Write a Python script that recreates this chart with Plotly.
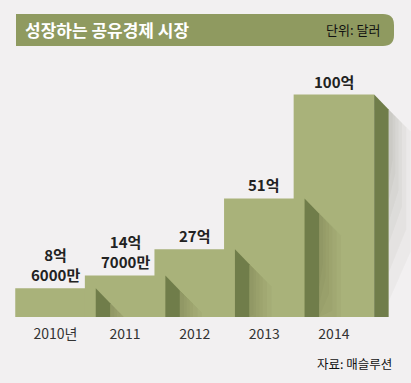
import plotly.graph_objects as go

# ---- data ----
years = ["2010년", "2011", "2012", "2013", "2014"]
values = [8.6, 14.7, 27, 51, 100]          # 억 달러
value_labels = ["8억<br>6000만", "14억<br>7000만", "27억", "51억", "100억"]
title_text = "성장하는 공유경제 시장"
unit_text = "단위: 달러"
source_text = "자료: 매슬루션"

# ---- style / geometry ----
W, H = 411, 383
BG = "#f2f0f1"
FRONT = "#a9b27a"
SIDE = "#707d4a"
TITLE_BG = "#8f9a60"
FONT = "'Noto Sans CJK KR', 'Noto Sans', sans-serif"

PX_X = 69.6           # pixels per category step
C0 = 55.5             # pixel centre of first bar
BAR_W = 80.5 / PX_X
PLOT_TOP, PLOT_BOT = 60, 317
BASE = -4.93
PX_Y = 2.12
Y_MAX = BASE + (PLOT_BOT - PLOT_TOP) / PX_Y
DX = 14.5 / PX_X
DY = 15 / PX_Y

pos = list(range(len(values)))

fig = go.Figure()

# front faces
fig.add_trace(go.Bar(
    x=pos, y=[v - BASE for v in values], base=BASE, width=BAR_W,
    marker=dict(color=FRONT, line=dict(width=0)),
    hoverinfo="skip", showlegend=False,
))

# soft shadows and side faces
for p, v in zip(pos, values):
    xr = p + BAR_W / 2
    xs = xr + DX
    ys = v - DY
    for k in (1.0, 0.8, 0.6, 0.45, 0.3, 0.18):
        w = 22 * k / PX_X
        drop = 22 * k / PX_Y
        depth = (30 + 90 * k) / PX_Y
        fig.add_trace(go.Scatter(
            x=[xs, xs + w, xs + w, xs, xs],
            y=[ys, ys - drop, max(BASE, ys - drop - depth), max(BASE, ys - depth * 1.6), ys],
            mode="lines", fill="toself", fillcolor="rgba(50,50,40,0.035)",
            line=dict(width=0), hoverinfo="skip", showlegend=False,
        ))
    fig.add_trace(go.Scatter(
        x=[xr, xr + DX, xr + DX, xr, xr],
        y=[v, v - DY, BASE, BASE, v],
        mode="lines", fill="toself", fillcolor=SIDE,
        line=dict(width=0), hoverinfo="skip", showlegend=False,
    ))

# value labels
for p, v, t in zip(pos, values, value_labels):
    fig.add_annotation(
        x=p, y=v, text=f"<b>{t}</b>", showarrow=False, yanchor="bottom", yshift=1,
        font=dict(family=FONT, size=15, color="#222222"),
        align="center",
    )


def px2paper(px, py):
    return px / W, (PLOT_BOT - py) / (PLOT_BOT - PLOT_TOP)


# title bar
x0, x1, y0, y1, r = 16, 394, 14, 46, 11
def P(px, py):
    a, b = px2paper(px, py)
    return f"{a:.5f},{b:.5f}"
path = (f"M {P(x0, y0)} L {P(x1 - r, y0)} Q {P(x1, y0)} {P(x1, y0 + r)} "
        f"L {P(x1, y1 - r)} Q {P(x1, y1)} {P(x1 - r, y1)} L {P(x0, y1)} Z")
fig.add_shape(type="path", path=path, xref="paper", yref="paper",
              fillcolor=TITLE_BG, line=dict(width=0), layer="above")

tx, ty = px2paper(23, 30)
fig.add_annotation(x=tx, y=ty, xref="paper", yref="paper", text=f"<b>{title_text}</b>",
                   showarrow=False, xanchor="left", yanchor="middle",
                   font=dict(family=FONT, size=17, color="white"))
ux, uy = px2paper(382, 30)
fig.add_annotation(x=ux, y=uy, xref="paper", yref="paper", text=unit_text,
                   showarrow=False, xanchor="right", yanchor="middle",
                   font=dict(family=FONT, size=13, color="#111111"))
sx_, sy_ = px2paper(394, 363)
fig.add_annotation(x=sx_, y=sy_, xref="paper", yref="paper", text=source_text,
                   showarrow=False, xanchor="right", yanchor="middle",
                   font=dict(family=FONT, size=12.5, color="#111111"))

fig.update_layout(
    width=W, height=H,
    margin=dict(l=0, r=0, t=PLOT_TOP, b=H - PLOT_BOT, pad=0),
    paper_bgcolor=BG, plot_bgcolor=BG,
    barmode="overlay",
    xaxis=dict(range=[-C0 / PX_X, (W - C0) / PX_X], tickvals=pos, ticktext=years,
               showgrid=False, zeroline=False, showline=False, ticks="",
               ticklabelstandoff=7,
               tickfont=dict(family=FONT, size=14, color="#333333"),
               fixedrange=True),
    yaxis=dict(range=[BASE, Y_MAX], showgrid=False, zeroline=False,
               showticklabels=False, showline=False, ticks="", fixedrange=True),
    font=dict(family=FONT),
)

fig.write_html("out.html", config={"displayModeBar": False},
               post_script="document.body.style.margin='0';")
